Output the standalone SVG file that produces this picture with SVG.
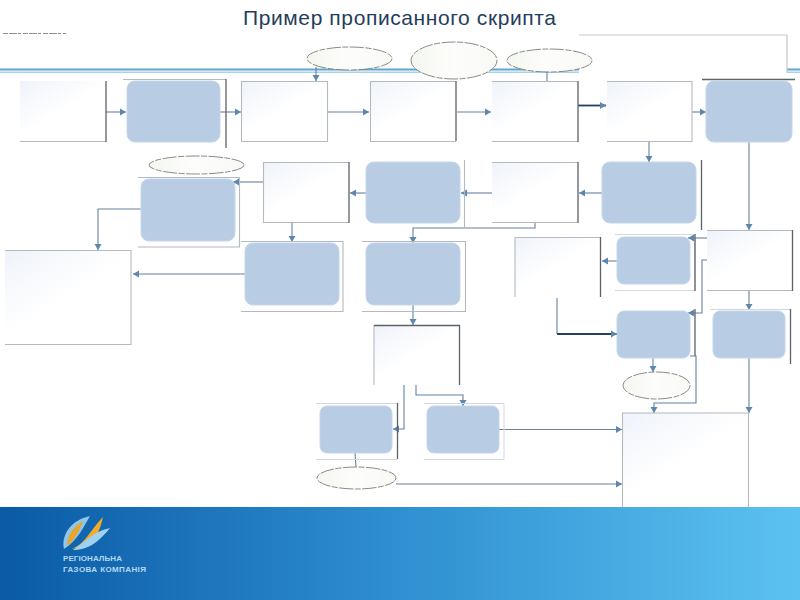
<svg xmlns="http://www.w3.org/2000/svg" width="800" height="600" viewBox="0 0 800 600">
<style>
text{font-family:"Liberation Sans",Arial,sans-serif}
.w{fill:url(#wg)}
.b{fill:#b8cce4;stroke:#c6d6ea;stroke-width:1}
.e{fill:url(#eg);stroke:#7a7f76;stroke-width:0.9;stroke-dasharray:14 1.5 6 1.5}
.l{fill:none;stroke:#b4bac0;stroke-width:1.1}
.d{fill:none;stroke:#5b6268;stroke-width:1.3}
.f{fill:none;stroke:#d4d8dc;stroke-width:1}
.c{fill:none;stroke:#64829f;stroke-width:1.1;marker-end:url(#a)}
.n{fill:none;stroke:#64829f;stroke-width:1.1}
.t{fill:none;stroke:#25405f;stroke-width:1.8;marker-end:url(#a)}
</style>
<defs>
<linearGradient id="wg" x1="0" y1="0" x2="0.6" y2="0.7"><stop offset="0" stop-color="#eff3fa"/><stop offset="0.75" stop-color="#fff"/></linearGradient>
<linearGradient id="eg" x1="0" y1="0" x2="1" y2="0"><stop offset="0" stop-color="#f4f6ef"/><stop offset="0.5" stop-color="#fdfefc"/><stop offset="1" stop-color="#f8f9f5"/></linearGradient>
<linearGradient id="bn" x1="0" y1="0" x2="1" y2="0"><stop offset="0" stop-color="#0a5aa6"/><stop offset="0.5" stop-color="#2f8fd0"/><stop offset="1" stop-color="#5cc2f1"/></linearGradient>
<marker id="a" markerUnits="userSpaceOnUse" markerWidth="8" markerHeight="8" refX="6.5" refY="4" orient="auto"><path d="M0.5 0.5L6.5 4L0.5 7.5Z" fill="#5f86ad"/></marker>
</defs>
<rect width="800" height="600" fill="#fff"/>
<g id="header">
<rect x="0" y="68.500" width="800" height="2" fill="#5fa6d2"/>
<rect x="0" y="71.500" width="800" height="1.500" fill="#a9d2ea"/>
<rect x="579" y="35" width="208" height="44" fill="#fff"/>
<path d="M579 35H787V73" fill="none" stroke="#c4c8cc" stroke-width="1.200"/>
<text x="243" y="25" font-size="21" fill="#253d5c" textLength="313">Пример прописанного скрипта</text>
<path d="M3 33.500H66" stroke="#8a9096" stroke-width="1" stroke-dasharray="5 1 8 1 3 2"/>
</g>
<g id="connectors">
<path class="c" d="M106 112H126"/>
<path class="c" d="M220 112H241"/>
<path class="c" d="M328 112H369"/>
<path class="c" d="M457 112H491"/>
<path class="t" d="M578 105.500H606"/>
<path class="c" d="M692 112H706"/>
<path class="c" d="M316 67V81"/>
<path class="n" d="M547 72V81"/>
<path class="c" d="M649 142V162"/>
<path class="c" d="M749 142V230"/>
<path class="c" d="M602 193H579"/>
<path class="c" d="M492 193H461"/>
<path class="c" d="M366 193H350"/>
<path class="c" d="M263 182H233"/>
<path class="c" d="M141 209H98V250"/>
<path class="c" d="M292 223V242"/>
<path class="c" d="M535 222V228H413V243"/>
<path class="c" d="M413 305V325"/>
<path class="c" d="M245 274H133"/>
<path class="c" d="M707 238H688"/>
<path class="c" d="M618 261H602"/>
<path class="c" d="M707 260H702V313H688"/>
<path class="n" d="M557 298V334"/>
<path class="t" d="M557 334H617"/>
<path class="c" d="M653 358V372"/>
<path class="c" d="M690 356H696V403H654V413"/>
<path class="c" d="M749 358V413"/>
<path class="c" d="M749 291V310"/>
<path class="c" d="M404 385V429H393"/>
<path class="c" d="M416 385V395H463V406"/>
<path class="c" d="M499 429.500H622"/>
<path class="n" d="M355 453L356 467"/>
<path class="c" d="M396 484H622"/>
</g>
<g id="n1"><rect class="w" x="20" y="81" width="86" height="60"/><path class="l" d="M20 141.500H106"/><path class="d" d="M106 81V142"/></g>
<g id="n2"><path class="l" d="M123 79.500H226"/><path class="d" d="M226 79V148"/><rect class="b" x="127" y="81" width="93" height="61" rx="8"/></g>
<g id="n3"><rect class="w" x="241" y="81" width="86" height="60"/><path class="l" d="M241.500 141.500V81.500H327.500V141.500H241"/></g>
<g id="n4"><rect class="w" x="370" y="81" width="86" height="60"/><path class="l" d="M370.500 141.500V81.500H456M370 141.500H456"/><path class="d" d="M456 81V141"/></g>
<g id="n5"><rect class="w" x="492" y="81" width="86" height="60"/><path class="l" d="M492 141.500H578M492 81.500H578"/><path class="d" d="M578 81V142"/></g>
<g id="n6"><rect class="w" x="607" y="81" width="85" height="60"/><path class="l" d="M607 141.500H692V81.500H607"/></g>
<g id="n7"><path class="d" d="M702 79.500H795"/><rect class="b" x="706" y="81" width="86" height="61" rx="8"/></g>
<g id="n8"><rect class="w" x="263" y="162" width="86" height="60"/><path class="l" d="M263.500 222V162.500H349M263 222.500H349"/><path class="d" d="M349 162V223"/></g>
<g id="n9"><path class="l" d="M464.500 160V228"/><rect class="b" x="366" y="162" width="94" height="61" rx="8"/></g>
<g id="n10"><rect class="w" x="492" y="162" width="86" height="60"/><path class="l" d="M492 162.500H578M492 222.500H578"/><path class="d" d="M578 162V223"/></g>
<g id="n11"><path class="d" d="M701.500 160V230"/><rect class="b" x="602" y="162" width="94" height="61" rx="8"/></g>
<g id="n12"><path class="l" d="M138 177.500H239.500V247H138"/><rect class="b" x="141" y="179" width="94" height="62" rx="8"/></g>
<g id="n13"><ellipse class="e" cx="196.500" cy="165" rx="47.500" ry="9"/></g>
<g id="n14"><rect class="w" x="5" y="250" width="126" height="94"/><path class="l" d="M5 250.500H131V344.500H5"/></g>
<g id="n15"><path class="l" d="M241 241.500H343V311.500H241"/><rect class="b" x="245" y="243" width="94" height="62" rx="8"/></g>
<g id="n16"><path class="l" d="M362 241.500H465.500V311.500H362"/><rect class="b" x="366" y="243" width="94" height="62" rx="8"/></g>
<g id="n17"><rect class="w" x="515" y="237" width="86" height="60"/><path class="l" d="M515 297V237.500H601"/><path class="d" d="M600.500 237V297"/></g>
<g id="n18"><path class="f" d="M615 234.500H695V290.500H615"/><path class="d" d="M695 234V291"/><rect class="b" x="617" y="237" width="73" height="47" rx="7"/></g>
<g id="n19"><rect class="w" x="707" y="230" width="86" height="60"/><path class="l" d="M707 230.500H793M707 290.500H793"/><path class="d" d="M792.500 230V291"/></g>
<g id="n20"><path class="d" d="M695 309V356"/><rect class="b" x="617" y="311" width="73" height="47" rx="7"/></g>
<g id="n21"><path class="f" d="M710 309.500H790"/><path class="d" d="M790.500 309V364"/><rect class="b" x="713" y="311" width="72" height="47" rx="7"/></g>
<g id="n22"><rect class="w" x="374" y="325" width="86" height="60"/><path class="l" d="M374 385V325"/><path class="d" d="M374 325.500H459.500V385"/></g>
<g id="n23"><path class="f" d="M316 403.500H397M316 459.500H397"/><path class="d" d="M397.500 403V459"/><rect class="b" x="320" y="406" width="72" height="47" rx="7"/></g>
<g id="n24"><path class="f" d="M424 403.500H504V459.500H424"/><rect class="b" x="427" y="406" width="72" height="47" rx="7"/></g>
<g id="n25"><rect class="w" x="623" y="413" width="126" height="94"/><path class="l" d="M622.500 507V413H748.500V507" stroke-width="1.500"/></g>
<g id="n26"><ellipse class="e" cx="349.500" cy="58.500" rx="42.500" ry="11.500"/></g>
<g id="n27"><ellipse class="e" cx="454" cy="60.500" rx="43" ry="18.500"/></g>
<g id="n28"><ellipse class="e" cx="549.500" cy="60.500" rx="42.500" ry="11.500"/></g>
<g id="n29"><ellipse class="e" cx="656.500" cy="385.500" rx="33.500" ry="13.500"/></g>
<g id="n30"><ellipse class="e" cx="356.500" cy="478" rx="39.500" ry="11"/></g>
<g id="footer">
<rect x="0" y="507" width="800" height="93" fill="url(#bn)"/>
<path d="M64 549C61 535 71 520 90 516C84 526 78 540 64 549Z" fill="#8fc6ea"/>
<path d="M67 546C67 535 74 526 83 521C80 530 75 540 67 546Z" fill="#e8a62e"/>
<path d="M71 549C85 545 90 530 103 517C100 530 96 540 88 545Z" fill="#f0ab2c"/>
<path d="M73 550C90 550 100 540 110 528C100 530 92 535 85 541Z" fill="#9fd2f1"/>
<text x="63" y="561" font-size="8" font-weight="700" fill="#b4d8f2" textLength="59">РЕГІОНАЛЬНА</text>
<text x="63" y="572" font-size="8" font-weight="700" fill="#b4d8f2" textLength="83">ГАЗОВА КОМПАНІЯ</text>
</g>
</svg>
